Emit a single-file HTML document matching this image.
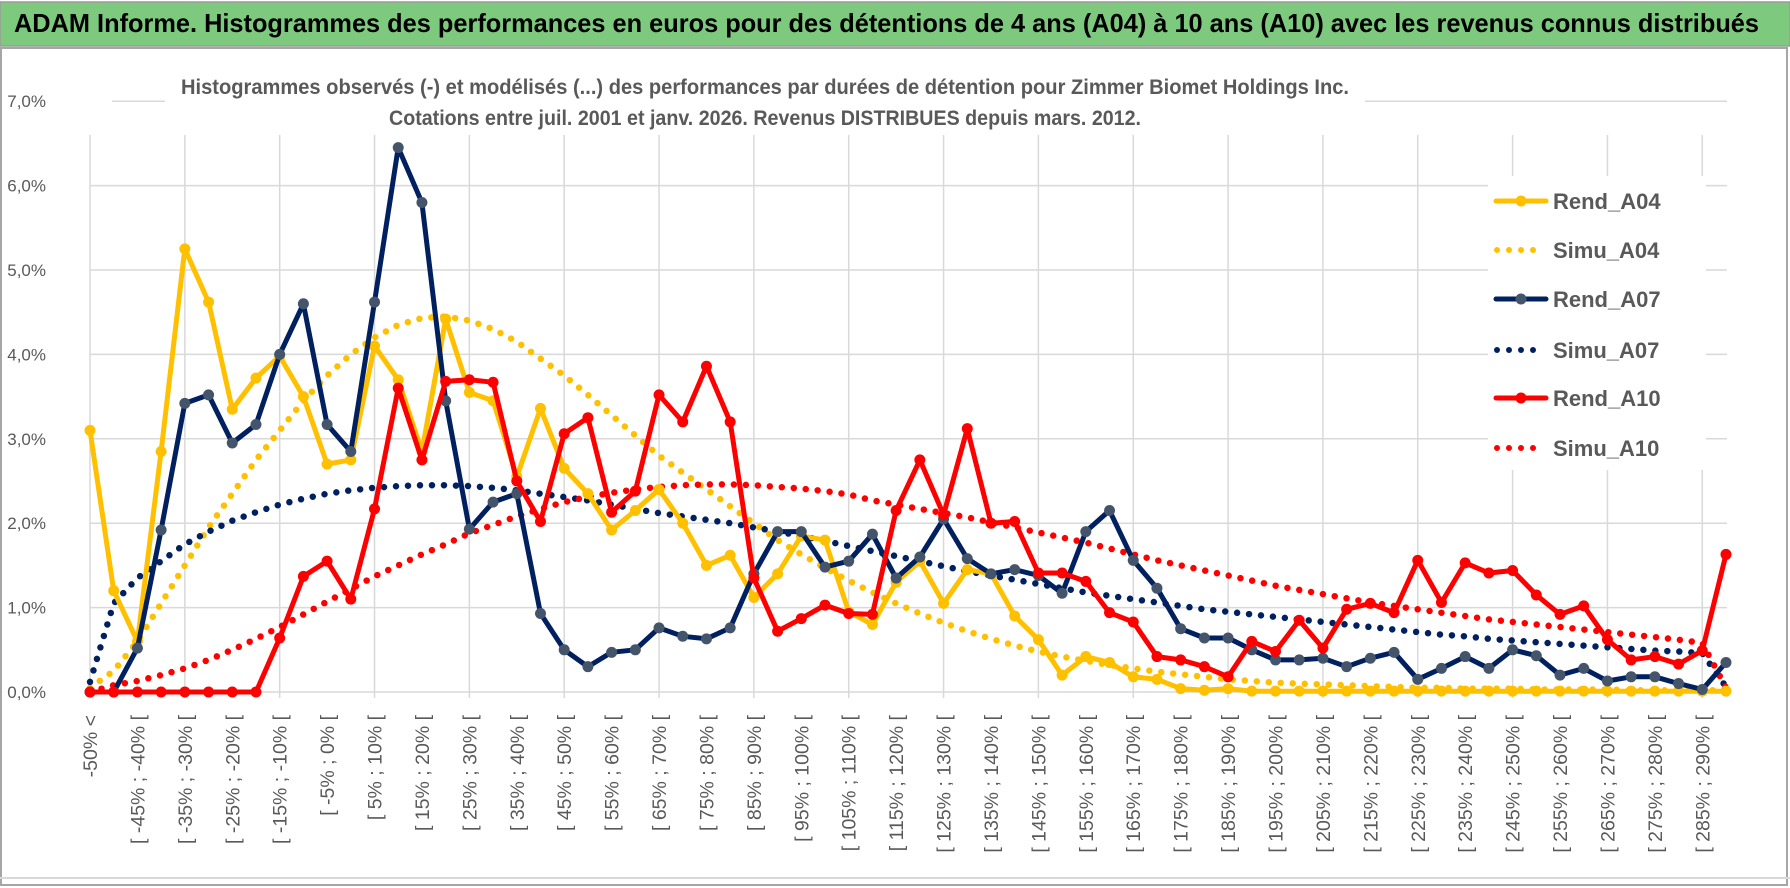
<!DOCTYPE html>
<html><head><meta charset="utf-8"><style>
html,body{margin:0;padding:0;background:#fff;}
svg{display:block;font-family:"Liberation Sans Narrow","Liberation Sans",sans-serif;}
</style></head><body>
<svg id="chart" width="1790" height="888" viewBox="0 0 1790 888" xmlns="http://www.w3.org/2000/svg">
<rect x="0" y="0" width="1790" height="888" fill="#fff"/>
<rect x="1" y="48" width="1786" height="837" fill="none" stroke="#a6a6a6" stroke-width="2"/>
<line x1="0" x2="1790" y1="878" y2="878" stroke="#d9d9d9" stroke-width="2"/>
<rect x="0" y="2" width="1790" height="44" fill="#7dc97d" stroke="#9a9a9a" stroke-width="1.5"/>
<text x="14" y="32" font-size="26" font-weight="bold" fill="#000" textLength="1745" lengthAdjust="spacingAndGlyphs">ADAM Informe. Histogrammes des performances en euros pour des détentions de 4 ans (A04) à 10 ans (A10) avec les revenus connus distribués</text>
<g id="grid"></g>
<rect x="165" y="64" width="1200" height="70" fill="#fff"/>
<text x="765" y="94" text-anchor="middle" font-size="21" font-weight="bold" fill="#595959" textLength="1168" lengthAdjust="spacingAndGlyphs">Histogrammes observés (-) et modélisés (...) des performances par durées de détention pour Zimmer Biomet Holdings Inc.</text>
<text x="765" y="125" text-anchor="middle" font-size="21" font-weight="bold" fill="#595959" textLength="752" lengthAdjust="spacingAndGlyphs">Cotations entre juil. 2001 et janv. 2026. Revenus DISTRIBUES depuis mars. 2012.</text>
<g id="yaxis"></g>
<g id="xaxis"></g>
<g id="series"></g>
<g id="legend"></g>
</svg>
<script>
const rendA04 = [3.1,1.2,0.6,2.85,5.25,4.62,3.35,3.72,3.98,3.5,2.7,2.75,4.1,3.7,2.85,4.42,3.55,3.45,2.55,3.36,2.65,2.35,1.92,2.15,2.4,2.0,1.5,1.62,1.12,1.4,1.85,1.8,0.95,0.8,1.3,1.55,1.05,1.45,1.4,0.9,0.62,0.2,0.42,0.35,0.18,0.15,0.04,0.02,0.04,0.01,0.01,0.01,0.01,0.01,0.01,0.01,0.01,0.01,0.01,0.01,0.01,0.01,0.01,0.01,0.01,0.01,0.01,0.01,0.01,0.01];
const simuA04 = [0.05,0.25,0.6,1.05,1.5,1.95,2.35,2.75,3.1,3.45,3.75,4.0,4.2,4.35,4.43,4.45,4.4,4.3,4.15,3.95,3.75,3.52,3.28,3.04,2.8,2.6,2.4,2.2,2.0,1.8,1.63,1.47,1.32,1.18,1.05,0.93,0.82,0.72,0.63,0.55,0.48,0.42,0.37,0.32,0.28,0.24,0.21,0.18,0.15,0.13,0.11,0.1,0.09,0.08,0.07,0.06,0.05,0.05,0.04,0.04,0.04,0.03,0.03,0.03,0.03,0.02,0.02,0.02,0.02,0.02];
const rendA07 = [0,0,0.52,1.92,3.42,3.52,2.95,3.17,4.0,4.6,3.17,2.85,4.62,6.45,5.8,3.45,1.93,2.25,2.35,0.93,0.5,0.3,0.47,0.5,0.76,0.66,0.63,0.76,1.4,1.9,1.9,1.48,1.55,1.87,1.35,1.6,2.05,1.58,1.4,1.45,1.38,1.17,1.9,2.15,1.56,1.23,0.75,0.64,0.64,0.5,0.38,0.38,0.4,0.3,0.4,0.47,0.15,0.28,0.42,0.28,0.5,0.43,0.2,0.28,0.13,0.18,0.18,0.1,0.03,0.35];
const simuA07 = [0.12,1.05,1.35,1.55,1.75,1.9,2.03,2.13,2.22,2.29,2.35,2.39,2.42,2.44,2.45,2.45,2.44,2.42,2.39,2.35,2.31,2.27,2.22,2.17,2.12,2.08,2.04,2.0,1.95,1.9,1.85,1.79,1.73,1.67,1.61,1.55,1.49,1.43,1.38,1.33,1.28,1.23,1.18,1.14,1.1,1.06,1.02,0.98,0.95,0.92,0.89,0.86,0.83,0.8,0.77,0.74,0.71,0.68,0.66,0.63,0.61,0.59,0.57,0.55,0.53,0.51,0.49,0.48,0.46,0.06];
const rendA10 = [0,0,0,0,0,0,0,0,0.64,1.37,1.55,1.1,2.17,3.6,2.75,3.68,3.7,3.67,2.5,2.02,3.06,3.25,2.13,2.38,3.52,3.2,3.86,3.2,1.35,0.72,0.87,1.03,0.93,0.92,2.15,2.75,2.1,3.12,2.0,2.02,1.41,1.41,1.31,0.94,0.83,0.42,0.38,0.3,0.18,0.6,0.48,0.85,0.52,0.98,1.05,0.94,1.56,1.06,1.53,1.41,1.44,1.15,0.92,1.02,0.62,0.38,0.42,0.33,0.49,1.63];
const simuA10 = [0.0,0.08,0.13,0.2,0.28,0.38,0.5,0.63,0.77,0.92,1.07,1.22,1.37,1.5,1.63,1.75,1.88,1.98,2.08,2.17,2.25,2.31,2.36,2.4,2.43,2.45,2.46,2.46,2.45,2.43,2.41,2.38,2.34,2.27,2.22,2.17,2.12,2.07,2.01,1.95,1.89,1.83,1.77,1.7,1.63,1.56,1.5,1.44,1.38,1.32,1.26,1.21,1.16,1.11,1.06,1.02,0.98,0.94,0.9,0.86,0.83,0.8,0.77,0.74,0.71,0.68,0.65,0.62,0.58,0.05];
const yTicks = [0,1,2,3,4,5,6,7];
const yTickLabels = ["0,0%","1,0%","2,0%","3,0%","4,0%","5,0%","6,0%","7,0%"];
const categories = ["-50% <"];
for (let k = 1; k < 70; k++) categories.push("[ " + (-55 + 5*k) + "% ; " + (-50 + 5*k) + "% [");

const NS = "http://www.w3.org/2000/svg";
const X0 = 90, STEP = 23.71, Y0 = 692, YU = 84.4;
function xPos(i){ return X0 + i*STEP; }
function yPos(v){ return Y0 - v*YU; }
function mk(tag, attrs, parent){ const e = document.createElementNS(NS, tag); for (const k in attrs) e.setAttribute(k, attrs[k]); parent.appendChild(e); return e; }

const grid = document.getElementById('grid');
yTicks.forEach((t, i) => {
  const x1 = t === 7 ? 112 : X0;
  const l = mk('line', {x1: x1, x2: 1727, y1: yPos(t), y2: yPos(t), stroke: '#d9d9d9', 'stroke-width': 1.5}, grid);
  
  
});
for (let i = 0; i < categories.length; i += 4) {
  const l = mk('line', {x1: xPos(i), x2: xPos(i), y1: 135, y2: Y0 + 6, stroke: '#d9d9d9', 'stroke-width': 1.5}, grid);
  
  
}

const yaxis = document.getElementById('yaxis');
yTicks.forEach((t, i) => {
  const tx = mk('text', {x: 46, y: yPos(t) + 6, 'text-anchor': 'end', 'font-size': 17, fill: '#595959'}, yaxis);
  tx.textContent = yTickLabels[i];
  
  
});

const xaxis = document.getElementById('xaxis');
categories.forEach((c, i) => {
  if (i % 2) return;
  const x = xPos(i) + 7;
  const tx = mk('text', {x: x, y: 715, 'text-anchor': 'end', 'font-size': 19.5, fill: '#595959', transform: 'rotate(-90 ' + x + ' 715)'}, xaxis);
  tx.textContent = c;
  
  
});

const series = document.getElementById('series');
function pts(arr){ return arr.map((v, i) => xPos(i).toFixed(1) + ',' + yPos(v).toFixed(1)).join(' '); }
function dotted(arr, color, name){
  const p = mk('polyline', {points: pts(arr), fill: 'none', stroke: color, 'stroke-width': 6.5, 'stroke-linecap': 'round', 'stroke-dasharray': '0 12'}, series);
  
  
}
function solid(arr, color, mcolor, name){
  const g = mk('g', {}, series);
  
  
  const p = mk('polyline', {points: pts(arr), fill: 'none', stroke: color, 'stroke-width': 5, 'stroke-linejoin': 'round'}, g);
  
  
  arr.forEach((v, i) => {
    const c = mk('circle', {cx: xPos(i), cy: yPos(v), r: 5.5, fill: mcolor}, g);
    
    
  });
}
dotted(simuA04, '#ffc000', 'simu-a04-line');
dotted(simuA07, '#002060', 'simu-a07-line');
dotted(simuA10, '#ff0000', 'simu-a10-line');
solid(rendA04, '#ffc000', '#ffc000', 'rend-a04');
solid(rendA07, '#002060', '#44546a', 'rend-a07');
solid(rendA10, '#ff0000', '#ff0000', 'rend-a10');

const legend = document.getElementById('legend');
mk('rect', {x: 1488, y: 176, width: 218, height: 294, fill: '#fff'}, legend);
const legItems = [
  ['Rend_A04', '#ffc000', '#ffc000', false],
  ['Simu_A04', '#ffc000', null, true],
  ['Rend_A07', '#002060', '#44546a', false],
  ['Simu_A07', '#002060', null, true],
  ['Rend_A10', '#ff0000', '#ff0000', false],
  ['Simu_A10', '#ff0000', null, true]
];
const legY = [201, 250, 299, 350, 398, 448];
legItems.forEach((it, i) => {
  const g = mk('g', {}, legend);
  
  
  const y = legY[i];
  if (it[3]) {
    mk('line', {x1: 1497, x2: 1540, y1: y, y2: y, stroke: it[1], 'stroke-width': 6, 'stroke-linecap': 'round', 'stroke-dasharray': '0 12'}, g);
  } else {
    mk('line', {x1: 1496, x2: 1546, y1: y, y2: y, stroke: it[1], 'stroke-width': 5, 'stroke-linecap': 'round'}, g);
    mk('circle', {cx: 1521, cy: y, r: 5.5, fill: it[2]}, g);
  }
  const t = mk('text', {x: 1553, y: y + 8, 'font-size': 22, 'font-weight': 'bold', fill: '#595959'}, g);
  t.textContent = it[0];
});
</script>
</body></html>
